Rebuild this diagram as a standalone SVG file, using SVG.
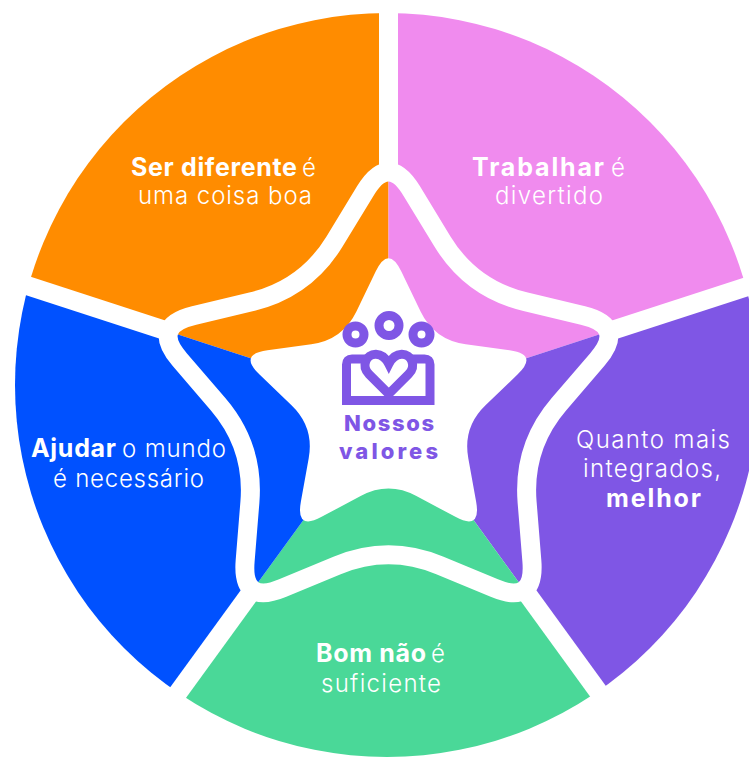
<svg xmlns="http://www.w3.org/2000/svg" xmlns:xlink="http://www.w3.org/1999/xlink" width="749" height="758" viewBox="0 0 749 758">
  <style>
    .t { font-family: Inter, "Open Sans", "Liberation Sans", sans-serif; font-size: 24px; fill: #FFFFFF; }
    .b { font-weight: 700; font-size: 25px; }
    .l { font-weight: 300; }
    .c { font-family: Inter, "Open Sans", "Liberation Sans", sans-serif; font-size: 22px; font-weight: 800; fill: #7F56E5; }
    .sep { stroke: #FFFFFF; stroke-width: 19; fill: none; }
    .icon { fill: none; stroke: #7F56E5; stroke-width: 9; }
  </style>
  <defs>
    <clipPath id="circ"><circle cx="387" cy="385" r="372"/></clipPath>
    <path id="outerStar" d="M 411.71 191.06 L 442.37 241.35 Q 471.38 288.93 525.60 301.82 L 582.91 315.44 Q 626.28 325.75 597.25 359.58 L 558.89 404.28 Q 522.60 446.57 527.10 502.11 L 531.85 560.82 Q 535.45 605.25 494.30 588.10 L 439.93 565.44 Q 388.5 544 337.07 565.44 L 282.70 588.10 Q 241.55 605.25 245.15 560.82 L 249.90 502.11 Q 254.40 446.57 218.11 404.28 L 179.75 359.58 Q 150.72 325.75 194.09 315.44 L 251.40 301.82 Q 305.62 288.93 334.63 241.35 L 365.29 191.06 Q 388.5 153 411.71 191.06 Z"/>
    <clipPath id="starClip"><use xlink:href="#outerStar"/></clipPath>
    <g id="wedges">
      <polygon fill="#FF8C00" points="388.5,403 -182.2,217.6 35.8,-82.4 388.5,-197"/>
      <polygon fill="#F08BEE" points="388.5,403 388.5,-197 741.2,-82.4 959.2,217.6"/>
      <polygon fill="#7F56E5" points="388.5,403 959.2,217.6 959.2,588.4 741.2,888.4"/>
      <polygon fill="#4AD898" points="388.5,403 741.2,888.4 388.5,1003 35.8,888.4"/>
      <polygon fill="#0051FF" points="388.5,403 35.8,888.4 -182.2,588.4 -182.2,217.6"/>
    </g>
  </defs>

  <g id="wheel">
    <use xlink:href="#wedges" clip-path="url(#circ)"/>
  </g>

  <g id="separators">
    <line class="sep" x1="388.5" y1="403" x2="388.5" y2="-20"/>
    <line class="sep" x1="388.5" y1="403" x2="816.5" y2="264"/>
    <line class="sep" x1="388.5" y1="403" x2="653" y2="767"/>
    <line class="sep" x1="388.5" y1="403" x2="124" y2="767"/>
    <line class="sep" x1="388.5" y1="403" x2="-39.5" y2="264"/>
  </g>

  <g id="star-ring">
    <use xlink:href="#wedges" clip-path="url(#starClip)"/>
    <use xlink:href="#outerStar" fill="none" stroke="#FFFFFF" stroke-width="19" stroke-linejoin="round"/>
  </g>

  <g id="node-center">
    <path fill="#FFFFFF" d="M 401.34 271.57 L 420.59 311.43 Q 434.35 339.90 465.68 344.18 L 509.53 350.18 Q 538.77 354.18 517.47 374.60 L 485.51 405.22 Q 462.69 427.10 468.29 458.22 L 476.14 501.78 Q 481.37 530.82 455.37 516.87 L 416.36 495.95 Q 388.5 481 360.64 495.95 L 321.63 516.87 Q 295.63 530.82 300.86 501.78 L 308.71 458.22 Q 314.31 427.10 291.49 405.22 L 259.53 374.60 Q 238.23 354.18 267.47 350.18 L 311.32 344.18 Q 342.65 339.90 356.41 311.43 L 375.66 271.57 Q 388.5 245 401.34 271.57 Z"/>
    <g id="icon">
      <circle class="icon" cx="355.5" cy="334.5" r="8.5"/>
      <circle class="icon" cx="389" cy="325.5" r="10"/>
      <circle class="icon" cx="421.5" cy="334.5" r="8.5"/>
      <path class="icon" d="M 366 359 H 352 Q 346.5 359 346.5 364.5 V 400.5 H 430 V 364.5 Q 430 359 424.5 359 H 411.6"/>
      <path class="icon" stroke-linejoin="miter" d="M 388.8 394 L 369 374.2 C 361 366 366 354 376 354.3 C 382 354.5 386 358.5 388.8 364 C 391.6 358.5 395.6 354.5 401.6 354.3 C 411.6 354 416.6 366 408.6 374.2 Z"/>
    </g>
    <text class="c" x="344" y="431" textLength="90" lengthAdjust="spacing">Nossos</text>
    <text class="c" x="339" y="459" textLength="99" lengthAdjust="spacing">valores</text>
  </g>

  <g id="node-ser-diferente">
    <text class="t b" x="131" y="176" textLength="166" lengthAdjust="spacing">Ser diferente</text>
    <text class="t l" x="302" y="176">é</text>
    <text class="t l" x="138" y="204" textLength="174" lengthAdjust="spacing">uma coisa boa</text>
  </g>

  <g id="node-trabalhar">
    <text class="t b" x="472" y="176" textLength="132" lengthAdjust="spacing">Trabalhar</text>
    <text class="t l" x="611" y="176">é</text>
    <text class="t l" x="495" y="204" textLength="108" lengthAdjust="spacing">divertido</text>
  </g>

  <g id="node-integrados">
    <text class="t l" x="576" y="448" textLength="154" lengthAdjust="spacing">Quanto mais</text>
    <text class="t l" x="583" y="477" textLength="138" lengthAdjust="spacing">integrados,</text>
    <text class="t b" x="606" y="507" textLength="95" lengthAdjust="spacing">melhor</text>
  </g>

  <g id="node-bom">
    <text class="t b" x="316" y="662" textLength="110" lengthAdjust="spacing">Bom não</text>
    <text class="t l" x="431" y="662">é</text>
    <text class="t l" x="321" y="692" textLength="120" lengthAdjust="spacing">suficiente</text>
  </g>

  <g id="node-ajudar">
    <text class="t b" x="31" y="457" textLength="85" lengthAdjust="spacing">Ajudar</text>
    <text class="t l" x="122" y="457" textLength="104" lengthAdjust="spacing">o mundo</text>
    <text class="t l" x="53" y="487" textLength="151" lengthAdjust="spacing">é necessário</text>
  </g>
</svg>
